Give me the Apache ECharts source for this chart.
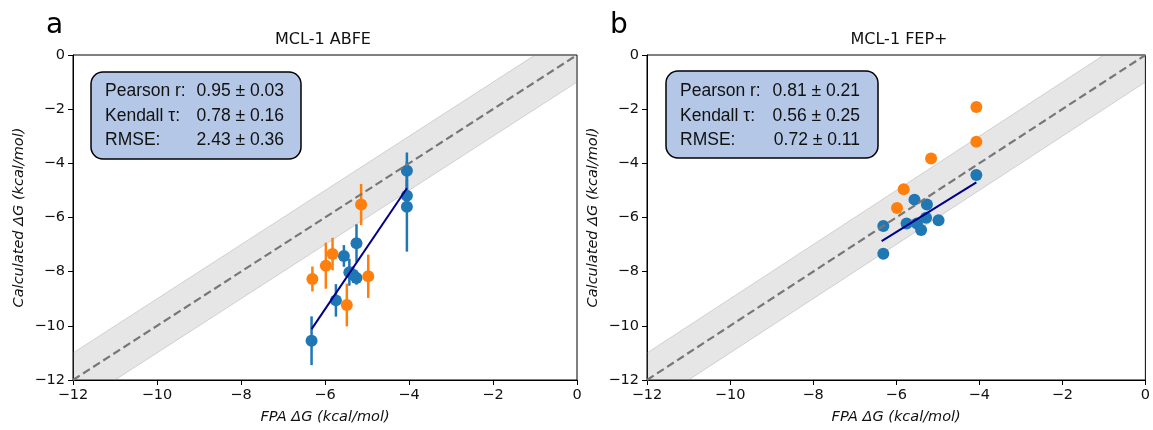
<!DOCTYPE html>
<html><head><meta charset="utf-8">
<script src="https://cdn.jsdelivr.net/npm/echarts@6/dist/echarts.min.js"></script>
<style>html,body{margin:0;padding:0;background:#fff}#c{width:1153px;height:430px}</style>
</head><body><div id="c"></div>
<script>
// ---- axis setup ----
const axisMin = -12, axisMax = 0, tickStep = 2;
const bandHalfWidth = 1;           // +/- 1 kcal/mol band
const panelTitles = ['MCL-1 ABFE', 'MCL-1 FEP+'];
const panelLetters = ['a', 'b'];
const xAxisName = 'FPA ΔG (kcal/mol)';
const yAxisName = 'Calculated ΔG (kcal/mol)';

// ---- panel a : ABFE (with error bars) ----
const abfeBlueX   = [-4.05, -4.05, -4.05, -5.25, -5.55, -5.42, -5.33, -5.25, -5.74, -6.32];
const abfeBlueY   = [-4.27, -5.20, -5.60, -6.95, -7.42, -8.02, -8.11, -8.23, -9.06, -10.55];
const abfeBlueErr = [0.67, 0.60, 1.66, 0.70, 0.40, 0.50, 0.30, 0.25, 0.60, 0.90];
const abfeOrangeX   = [-5.14, -5.82, -5.98, -6.30, -4.97, -5.48];
const abfeOrangeY   = [-5.52, -7.35, -7.78, -8.27, -8.17, -9.23];
const abfeOrangeErr = [0.76, 0.60, 0.85, 0.46, 0.80, 0.79];
const abfeFitX = [-6.32, -4.05];
const abfeFitY = [-10.12, -4.92];
const abfeStatsLabels = ['Pearson r:', 'Kendall τ:', 'RMSE:'];
const abfeStatsValues = ['0.95 ± 0.03', '0.78 ± 0.16', '2.43 ± 0.36'];

// ---- panel b : FEP+ ----
const fepBlueX = [-4.07, -5.56, -5.26, -6.31, -5.75, -5.50, -5.28, -4.98, -5.40, -6.31];
const fepBlueY = [-4.43, -5.34, -5.52, -6.31, -6.22, -6.22, -6.01, -6.10, -6.46, -7.34];
const fepOrangeX = [-4.07, -4.07, -5.16, -5.82, -5.98];
const fepOrangeY = [-1.92, -3.20, -3.82, -4.96, -5.65];
const fepFitX = [-6.35, -4.07];
const fepFitY = [-6.87, -4.70];
const fepStatsLabels = ['Pearson r:', 'Kendall τ:', 'RMSE:'];
const fepStatsValues = ['0.81 ± 0.21', '0.56 ± 0.25', '0.72 ± 0.11'];

const BLUE = '#1f77b4', ORANGE = '#ff7f0e', NAVY = '#00008b';
const FONT = "'DejaVu Sans', sans-serif";

const zip = (xs, ys) => xs.map((x, i) => [x, ys[i]]);
const zip3 = (xs, ys, es) => xs.map((x, i) => [x, ys[i], es[i]]);
const minusFmt = v => String(v).replace('-', '\u2212');

const grids = [
  { left: 73, top: 55, width: 504, height: 328 },
  { left: 647, top: 55, width: 504, height: 328 }
];

function mkX(i) {
  return {
    type: 'value', gridIndex: i, min: axisMin, max: axisMax, interval: tickStep,
    name: xAxisName, nameLocation: 'middle', nameGap: 30,
    nameTextStyle: { fontFamily: FONT, fontSize: 14.5, fontStyle: 'italic', color: '#111' },
    axisLine: { show: true, onZero: false, lineStyle: { color: '#000', width: 1 } },
    axisTick: { show: true, inside: false, length: 5, lineStyle: { color: '#000' } },
    axisLabel: { formatter: minusFmt, fontFamily: FONT, fontSize: 14.5, color: '#111', margin: 8 },
    splitLine: { show: false }
  };
}
function mkY(i) {
  return {
    type: 'value', gridIndex: i, min: axisMin, max: axisMax, interval: tickStep,
    name: yAxisName, nameLocation: 'middle', nameGap: 46, nameRotate: 90,
    nameTextStyle: { fontFamily: FONT, fontSize: 14.5, fontStyle: 'italic', color: '#111' },
    axisLine: { show: true, onZero: false, lineStyle: { color: '#000', width: 1 } },
    axisTick: { show: true, inside: false, length: 5, lineStyle: { color: '#000' } },
    axisLabel: { formatter: minusFmt, fontFamily: FONT, fontSize: 14.5, color: '#111', margin: 8 },
    splitLine: { show: false }
  };
}

function bandSeries(i) {
  return {
    type: 'custom', xAxisIndex: i, yAxisIndex: i, silent: true,
    data: [[axisMin, axisMin]],
    renderItem: function (params, api) {
      const hw = bandHalfWidth;
      const poly = [[axisMin, axisMin], [axisMin, axisMin + hw], [axisMax - hw, axisMax],
                    [axisMax, axisMax], [axisMax, axisMax - hw], [axisMin + hw, axisMin]].map(p => api.coord(p));
      const up = [[axisMin, axisMin + hw], [axisMax - hw, axisMax]].map(p => api.coord(p));
      const lo = [[axisMin + hw, axisMin], [axisMax, axisMax - hw]].map(p => api.coord(p));
      return { type: 'group', children: [
        { type: 'polygon', shape: { points: poly }, style: { fill: 'rgba(128,128,128,0.2)' } },
        { type: 'polyline', shape: { points: up }, style: { stroke: 'rgba(128,128,128,0.3)', lineWidth: 1, fill: null } },
        { type: 'polyline', shape: { points: lo }, style: { stroke: 'rgba(128,128,128,0.3)', lineWidth: 1, fill: null } }
      ] };
    }
  };
}
function diagSeries(i) {
  return {
    type: 'line', xAxisIndex: i, yAxisIndex: i, silent: true, symbol: 'none',
    data: [[axisMin, axisMin], [axisMax, axisMax]],
    lineStyle: { color: '#777777', width: 2.2, type: [8, 4] }
  };
}
function errSeries(i, data, color) {
  return {
    type: 'custom', xAxisIndex: i, yAxisIndex: i, silent: true, data: data,
    renderItem: function (params, api) {
      const x = api.value(0), y = api.value(1), e = api.value(2);
      const p1 = api.coord([x, y + e]), p2 = api.coord([x, y - e]);
      return { type: 'line', shape: { x1: p1[0], y1: p1[1], x2: p2[0], y2: p2[1] },
               style: { stroke: color, lineWidth: 2.5 } };
    }
  };
}
function scatterSeries(i, data, color) {
  return { type: 'scatter', xAxisIndex: i, yAxisIndex: i, data: data, symbolSize: 12,
           itemStyle: { color: color, opacity: 1 } };
}
function fitSeries(i, data) {
  return { type: 'line', xAxisIndex: i, yAxisIndex: i, symbol: 'none', data: data,
           lineStyle: { color: NAVY, width: 2 } };
}

function statsBox(x, y, w, h, labelX, valueRightX, labels, values) {
  const lineYs = [91.5, 116, 140.5];
  const font = "17.5px 'Liberation Sans', sans-serif";
  const children = [{
    type: 'rect', shape: { x: x, y: y, width: w, height: h, r: 12 },
    style: { fill: '#b4c7e7', stroke: '#000', lineWidth: 1.5 }
  }];
  labels.forEach((t, k) => {
    children.push({ type: 'text', style: { x: labelX, y: lineYs[k], text: t, fill: '#111',
      font: font, textAlign: 'left', textVerticalAlign: 'middle' } });
    children.push({ type: 'text', style: { x: valueRightX, y: lineYs[k], text: values[k], fill: '#111',
      font: font, textAlign: 'right', textVerticalAlign: 'middle' } });
  });
  return { type: 'group', children: children };
}

const chart = echarts.init(document.getElementById('c'), null, { renderer: 'canvas' });
chart.setOption({
  animation: false,
  backgroundColor: '#fff',
  grid: grids.map(g => Object.assign({ show: true, borderColor: '#000', borderWidth: 1, backgroundColor: 'transparent' }, g)),
  xAxis: [mkX(0), mkX(1)],
  yAxis: [mkY(0), mkY(1)],
  series: [
    bandSeries(0), diagSeries(0),
    errSeries(0, zip3(abfeBlueX, abfeBlueY, abfeBlueErr), BLUE),
    scatterSeries(0, zip(abfeBlueX, abfeBlueY), BLUE),
    errSeries(0, zip3(abfeOrangeX, abfeOrangeY, abfeOrangeErr), ORANGE),
    scatterSeries(0, zip(abfeOrangeX, abfeOrangeY), ORANGE),
    fitSeries(0, zip(abfeFitX, abfeFitY)),
    bandSeries(1), diagSeries(1),
    scatterSeries(1, zip(fepBlueX, fepBlueY), BLUE),
    scatterSeries(1, zip(fepOrangeX, fepOrangeY), ORANGE),
    fitSeries(1, zip(fepFitX, fepFitY))
  ],
  graphic: [
    { type: 'text', style: { x: 46, y: 26, text: panelLetters[0], font: "28px " + FONT, fill: '#000', textVerticalAlign: 'middle' } },
    { type: 'text', style: { x: 610, y: 26, text: panelLetters[1], font: "28px " + FONT, fill: '#000', textVerticalAlign: 'middle' } },
    { type: 'text', style: { x: 323, y: 40, text: panelTitles[0], font: "16px " + FONT, fill: '#111', textAlign: 'center', textVerticalAlign: 'middle' } },
    { type: 'text', style: { x: 899, y: 40, text: panelTitles[1], font: "16px " + FONT, fill: '#111', textAlign: 'center', textVerticalAlign: 'middle' } },
    statsBox(91, 72, 210, 87, 105, 284, abfeStatsLabels, abfeStatsValues),
    statsBox(666, 71, 212, 87, 680, 860, fepStatsLabels, fepStatsValues)
  ]
});
</script>
</body></html>
